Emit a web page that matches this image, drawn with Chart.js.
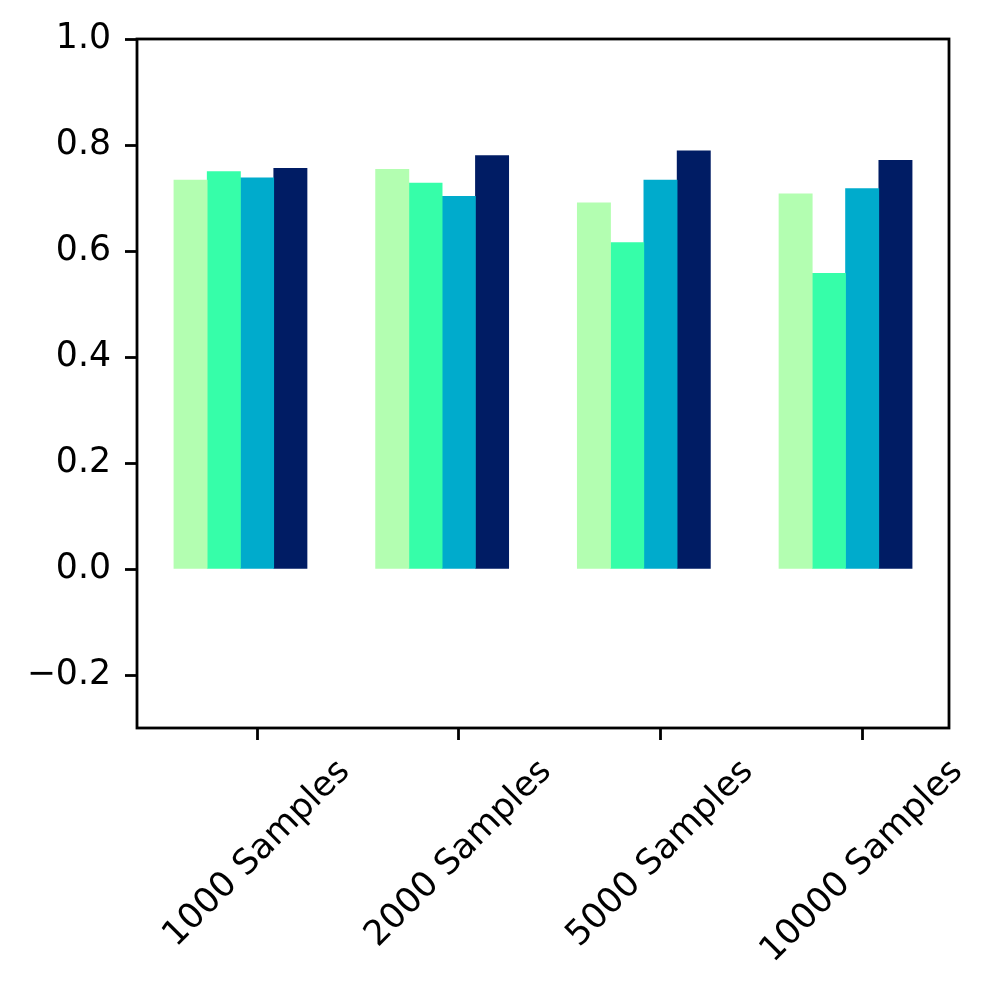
<!DOCTYPE html>
<html>
<head>
<meta charset="utf-8">
<script src="https://cdn.jsdelivr.net/npm/chart.js@4"></script>
<style>
  body { margin: 0; background: #fff; }
  #wrap { width: 998px; height: 998px; }
</style>
</head>
<body>
<div id="wrap"><canvas id="myChart"></canvas></div>
<script>
const categories = ['1000 Samples', '2000 Samples', '5000 Samples', '10000 Samples'];
const seriesA = [0.734, 0.754, 0.691, 0.708];
const seriesB = [0.750, 0.728, 0.616, 0.558];
const seriesC = [0.738, 0.703, 0.734, 0.718];
const seriesD = [0.756, 0.780, 0.789, 0.771];
const yTicks = [-0.2, 0.0, 0.2, 0.4, 0.6, 0.8, 1.0];

const colors = ['#b3feb1', '#36fea9', '#00abcc', '#001c64'];
const barW = 0.165;
const fontSize = 34.7;
const lw = 2.8;

// matplotlib style 5% margins around the bars
const dataLeft = -2.5 * barW;
const dataRight = (categories.length - 1) + 1.5 * barW;
const margin = (dataRight - dataLeft) * 0.05;

const allSeries = [seriesA, seriesB, seriesC, seriesD];

const datasets = allSeries.map((s, i) => ({
  label: 'S' + (i + 1),
  data: s.map((v, g) => ({ x: g + (i - 2) * barW, y: v })),
  backgroundColor: colors[i],
  borderWidth: 0,
  grouped: false,
  barPercentage: 1,
  categoryPercentage: 1
}));

const framePlugin = {
  id: 'frame',
  afterDraw(chart) {
    const { ctx, chartArea } = chart;
    const x = chart.scales.x;
    ctx.save();
    ctx.strokeStyle = '#000';
    ctx.lineWidth = lw;
    ctx.strokeRect(chartArea.left, chartArea.top, chartArea.right - chartArea.left, chartArea.bottom - chartArea.top);

    // rotated x labels, centred under the ticks like matplotlib
    ctx.fillStyle = '#000';
    ctx.font = fontSize + 'px "DejaVu Sans"';
    ctx.textAlign = 'center';
    ctx.textBaseline = 'middle';
    categories.forEach((c, i) => {
      const px = x.getPixelForValue(i);
      const w = ctx.measureText(c).width;
      const h = fontSize * 1.17;
      const cy = chartArea.bottom + 12 + 12 + (w + h) * Math.SQRT1_2 / 2;
      ctx.save();
      ctx.translate(px, cy);
      ctx.rotate(-Math.PI / 4);
      ctx.fillText(c, 0, 0);
      ctx.restore();
    });
    ctx.restore();
  }
};

const ctx = document.querySelector('#myChart');

new Chart(ctx, {
  type: 'bar',
  data: { datasets: datasets },
  plugins: [framePlugin],
  options: {
    responsive: true,
    maintainAspectRatio: false,
    animation: false,
    layout: { padding: { top: 39, right: 49, left: 0, bottom: 0 } },
    plugins: { legend: { display: false }, tooltip: { enabled: false } },
    scales: {
      x: {
        type: 'linear',
        offset: false,
        min: dataLeft - margin,
        max: dataRight + margin,
        afterBuildTicks: (scale) => { scale.ticks = categories.map((c, i) => ({ value: i })); },
        afterFit: (scale) => { scale.height = 270; },
        ticks: { display: false },
        border: { display: false },
        grid: {
          offset: false,
          drawOnChartArea: false,
          drawTicks: true,
          tickLength: 12,
          tickWidth: lw,
          tickColor: '#000'
        }
      },
      y: {
        min: -0.3,
        max: 1.0,
        afterBuildTicks: (scale) => { scale.ticks = yTicks.map(v => ({ value: v })); },
        afterFit: (scale) => { scale.width = 137; },
        ticks: {
          color: '#000',
          padding: 14,
          font: { family: 'DejaVu Sans', size: fontSize },
          callback: (v) => v.toFixed(1).replace('-', '\u2212')
        },
        border: { display: false },
        grid: {
          drawOnChartArea: false,
          drawTicks: true,
          tickLength: 12,
          tickWidth: lw,
          tickColor: '#000'
        }
      }
    }
  }
});
</script>
</body>
</html>
